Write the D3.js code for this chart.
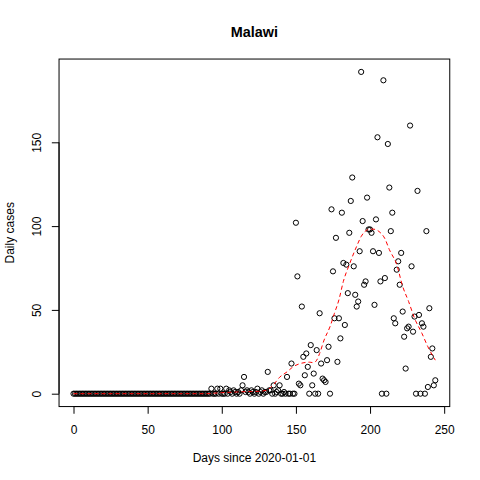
<!DOCTYPE html>
<html>
<head>
<meta charset="utf-8">
<script src="https://cdn.jsdelivr.net/npm/d3@7"></script>
<style>
  body { margin: 0; background: #fff; }
  svg { display: block; font-family: "Liberation Sans", Arial, sans-serif; }
</style>
</head>
<body>
<svg></svg>
<script>
// daily cases, one value per day starting at day 0 (2020-01-01)
const firstDay = 0;
const cases = [
    0, 0, 0, 0, 0, 0, 0, 0, 0, 0,
    0, 0, 0, 0, 0, 0, 0, 0, 0, 0,
    0, 0, 0, 0, 0, 0, 0, 0, 0, 0,
    0, 0, 0, 0, 0, 0, 0, 0, 0, 0,
    0, 0, 0, 0, 0, 0, 0, 0, 0, 0,
    0, 0, 0, 0, 0, 0, 0, 0, 0, 0,
    0, 0, 0, 0, 0, 0, 0, 0, 0, 0,
    0, 0, 0, 0, 0, 0, 0, 0, 0, 0,
    0, 0, 0, 0, 0, 0, 0, 0, 0, 0,
    0, 0, 0, 3, 0, 0, 0, 3, 0, 3,       // 90
    0, 0, 0, 3, 0, 2, 1, 0, 2, 1,       // 100
    0, 1, 0, 2, 5, 10, 1, 2, 1, 0,      // 110
    2, 1, 0, 1, 3, 0, 1, 2, 0, 1,       // 120
    1, 13, 2, 2, 0, 5, 0, 1, 2, 5,      // 130
    0, 0, 1, 0, 10, 0, 0, 18, 0, 0,     // 140
    102, 70, 6, 5, 52, 22, 11, 24, 16, 0,   // 150
    29, 5, 12, 0, 26, 0, 48, 18, 9, 8,      // 160
    7, 20, 28, 0, 110, 73, 45, 93, 19, 45,  // 170
    33, 108, 78, 41, 77, 60, 96, 115, 129, 76,  // 180
    59, 52, 55, 85, 192, 103, 65, 67, 117, 98,  // 190
    98, 96, 85, 53, 104, 153, 84, 67, 0, 187,   // 200
    69, 0, 149, 123, 97, 108, 45, 42, 74, 79,   // 210
    65, 84, 49, 34, 15, 39, 40, 160, 76, 37,    // 220
    46, 0, 121, 47, 0, 42, 40, 0, 97, 4,        // 230
    51, 22, 27, 5, 8                            // 240
];

// smoothed trend (red dashed)
const smoothDays = [0, 30, 60, 90, 95, 100, 105, 110, 115, 120, 125, 130, 135, 139, 144, 148,
    153, 159, 162, 164, 166, 169, 173, 176, 179, 182, 186, 191, 194, 199, 202, 206,
    210, 213, 218, 222, 226, 230, 235, 239, 244];
const smoothCases = [0, 0, 0, 0, 0.3, 0.6, 0.8, 1.0, 1.2, 1.3, 1.4, 2.0, 5.5, 9.8, 13, 16,
    18, 18.8, 18.5, 20, 24, 32, 40, 48, 56, 67, 77, 88, 93.8, 98, 98.2, 96.8,
    92.5, 86, 77, 64, 55, 45, 36, 28, 20];

const xTicks = [0, 50, 100, 150, 200, 250];
const yTicks = [0, 50, 100, 150];

const points = cases.map((v, i) => ({ day: firstDay + i, value: v }));

const svgWidth = 480;
const svgHeight = 480;
const plot = { left: 59.04, right: 449.76, top: 59.04, bottom: 406.56 };

const svg = d3.select('svg')
    .attr('width', svgWidth)
    .attr('height', svgHeight);

// R-style 4% padding on both axes
const xExt = d3.extent(points, d => d.day);
const yExt = d3.extent(points, d => d.value);
const xPad = (xExt[1] - xExt[0]) * 0.04;
const yPad = (yExt[1] - yExt[0]) * 0.04;

const x = d3.scaleLinear()
    .domain([xExt[0] - xPad, xExt[1] + xPad])
    .range([plot.left, plot.right]);

const y = d3.scaleLinear()
    .domain([yExt[0] - yPad, yExt[1] + yPad])
    .range([plot.bottom, plot.top]);

// points
svg.append('g')
    .selectAll('circle')
    .data(points)
    .enter().append('circle')
    .attr('cx', d => x(d.day))
    .attr('cy', d => y(d.value))
    .attr('r', 2.6)
    .attr('fill', 'none')
    .attr('stroke', 'black')
    .attr('stroke-width', 1);

// trend line
const smooth = smoothDays.map((d, i) => ({ day: d, value: smoothCases[i] }));
svg.append('path')
    .datum(smooth)
    .attr('fill', 'none')
    .attr('stroke', '#ff0000')
    .attr('stroke-width', 1)
    .attr('stroke-dasharray', '4,3')
    .attr('d', d3.line()
        .x(d => x(d.day))
        .y(d => y(d.value))
        .curve(d3.curveMonotoneX));

// box
svg.append('rect')
    .attr('x', plot.left)
    .attr('y', plot.top)
    .attr('width', plot.right - plot.left)
    .attr('height', plot.bottom - plot.top)
    .attr('fill', 'none')
    .attr('stroke', 'black')
    .attr('stroke-width', 1);

// axes
const xAxis = svg.append('g')
    .attr('transform', `translate(0, ${plot.bottom})`)
    .call(d3.axisBottom(x).tickValues(xTicks).tickSize(7.2).tickPadding(11.5));
xAxis.select('.domain').remove();
xAxis.append('line')
    .attr('x1', x(xTicks[0]))
    .attr('x2', x(xTicks[xTicks.length - 1]))
    .attr('stroke', 'black');
xAxis.selectAll('text')
    .attr('font-size', '12px')
    .attr('font-family', '"Liberation Sans", Arial, sans-serif')
    .attr('fill', 'black');

const yAxis = svg.append('g')
    .attr('transform', `translate(${plot.left}, 0)`)
    .call(d3.axisLeft(y).tickValues(yTicks).tickSize(7.2));
yAxis.select('.domain').remove();
yAxis.append('line')
    .attr('y1', y(yTicks[0]))
    .attr('y2', y(yTicks[yTicks.length - 1]))
    .attr('stroke', 'black');
yAxis.selectAll('text')
    .attr('x', null)
    .attr('dy', null)
    .attr('transform', 'translate(-18.5, 0) rotate(-90)')
    .attr('text-anchor', 'middle')
    .attr('font-size', '12px')
    .attr('font-family', '"Liberation Sans", Arial, sans-serif')
    .attr('fill', 'black');

// titles
svg.append('text')
    .attr('x', (plot.left + plot.right) / 2)
    .attr('y', 37)
    .attr('text-anchor', 'middle')
    .attr('font-size', '14.4px')
    .attr('font-weight', 'bold')
    .text('Malawi');

svg.append('text')
    .attr('x', (plot.left + plot.right) / 2)
    .attr('y', 462)
    .attr('text-anchor', 'middle')
    .attr('font-size', '12px')
    .text('Days since 2020-01-01');

svg.append('text')
    .attr('transform', `translate(13.5, ${(plot.top + plot.bottom) / 2}) rotate(-90)`)
    .attr('text-anchor', 'middle')
    .attr('font-size', '12px')
    .text('Daily cases');
</script>
</body>
</html>
